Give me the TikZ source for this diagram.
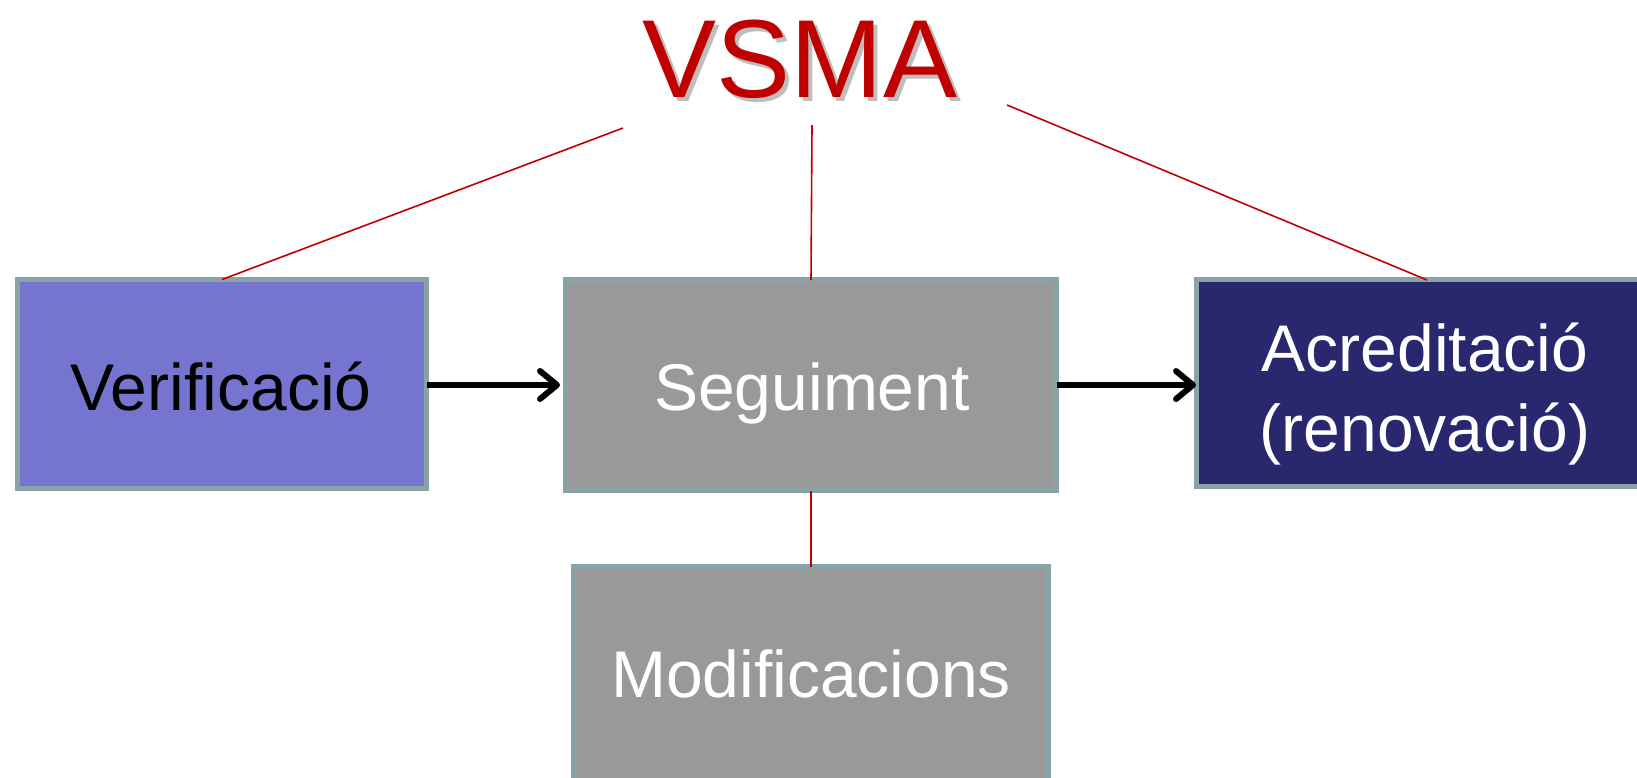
\documentclass[tikz,border=0pt]{standalone}
\usepackage{fontspec}
\setmainfont{Liberation Sans}
\usetikzlibrary{arrows.meta}
\definecolor{bordc}{RGB}{136,164,166}
\definecolor{verifc}{RGB}{117,117,207}
\definecolor{grayc}{RGB}{153,153,153}
\definecolor{navyc}{RGB}{41,40,111}
\definecolor{redc}{RGB}{192,0,0}
\definecolor{shadc}{RGB}{190,190,190}
\tikzset{
  boxst/.style={draw=bordc, line width=5pt, inner sep=0pt, outer sep=2.5pt},
  txt/.style={anchor=base, inner sep=0pt, font=\fontsize{66}{79}\selectfont},
  titlest/.style={anchor=base, inner sep=0pt, font=\fontsize{111}{133}\selectfont},
  redline/.style={draw=redc, line width=1.6pt},
  flow/.style={draw=black, line width=6pt, -{Straight Barb[length=17pt,width=28pt,line cap=round,line join=round]}},
}
\begin{document}
\begin{tikzpicture}[x=1pt,y=-1pt]
\useasboundingbox (0,0) rectangle (1637,777);
\clip (0,0) rectangle (1637,777);
% boxes
\node[boxst, fill=verifc, minimum width=409pt, minimum height=209pt] (verif) at (222,384) {};
\node[boxst, fill=grayc, minimum width=491pt, minimum height=211pt] (seg) at (811,385) {};
\node[boxst, fill=navyc, minimum width=457pt, minimum height=207pt] (acred) at (1425,383) {};
\node[boxst, fill=grayc, minimum width=475pt, minimum height=260pt] (modif) at (811,696.5) {};
% texts
\node[txt, text=black] (verift) at (221,410) {Verificació};
\node[txt, text=white] (segt) at (812,410) {Seguiment};
\node[txt, text=white] (acredt1) at (1425,371) {Acreditació};
\node[txt, text=white] (acredt2) at (1425,451) {(renovació)};
\node[txt, text=white] (modift) at (811,697) {Modificacions};
% title with shadow
\node[titlest, text=shadc] (vsmas) at (804,101) {VSMA};
\node[titlest, text=redc] (vsma) at (800,97) {VSMA};
% free ends of the title lines
\coordinate (t1) at (623,128);
\coordinate (t2) at (812,125);
\coordinate (t3) at (1007,105);
% red connectors
\draw[redline] (t1) -- ([yshift=-2.5pt]verif.north);
\draw[redline] (t2) -- ([yshift=-3pt]seg.north);
\draw[redline] (t3) -- ([xshift=2pt,yshift=-3pt]acred.north);
\draw[redline] ([yshift=2pt]seg.south) -- ([yshift=-3pt]modif.north);
% arrows
\draw[flow] ([xshift=-2pt]verif.east |- seg.west) -- ([xshift=-3pt]seg.west);
\draw[flow] ([xshift=-2pt]seg.east) -- ([xshift=2pt]acred.west |- seg.east);
\end{tikzpicture}
\end{document}
